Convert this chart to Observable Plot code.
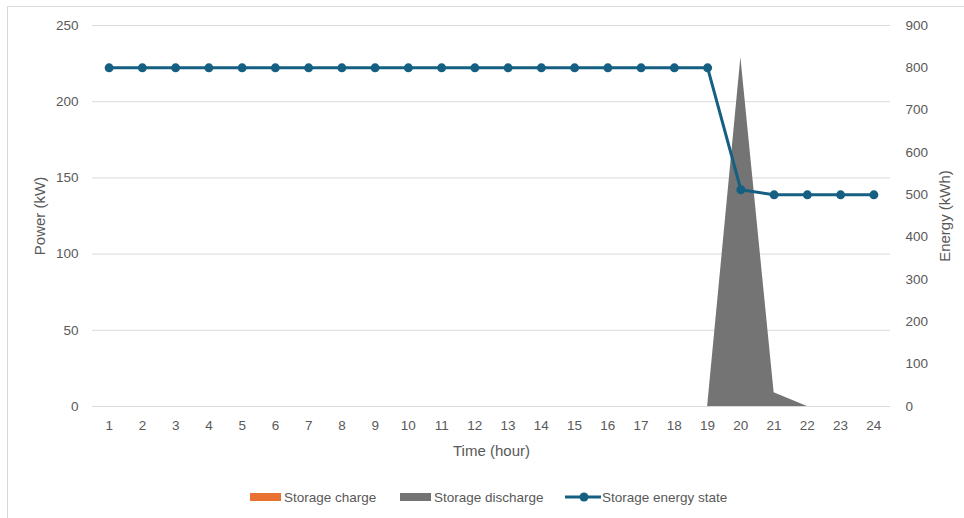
<!DOCTYPE html>
<html>
<head>
<meta charset="utf-8">
<script src="https://cdn.jsdelivr.net/npm/d3@7"></script>
<script src="https://cdn.jsdelivr.net/npm/@observablehq/plot@0.6"></script>
<style>
  html, body { margin: 0; padding: 0; background: #fff; }
  #wrap { position: relative; width: 964px; height: 518px; overflow: hidden; font-family: "Liberation Sans", Arial, sans-serif; }
  #frame { position: absolute; left: 7px; top: 6px; width: 980px; height: 530px; border: 1px solid #d9d9d9; box-sizing: border-box; }
  #chart { position: absolute; left: 0; top: 0; }
  #legend { position: absolute; left: 0; top: 487px; width: 964px; height: 20px; font-size: 13.5px; color: #595959; }
  .item { position: absolute; top: 0; display: flex; align-items: center; height: 20px; }
  .sw { width: 31px; height: 8px; margin-right: 3px; }
</style>
</head>
<body>
<div id="wrap">
  <div id="frame"></div>
  <div id="chart"></div>
  <div id="legend">
    <div class="item" style="left:250px"><span class="sw" style="background:#E97132"></span>Storage charge</div>
    <div class="item" style="left:400px"><span class="sw" style="background:#747474"></span>Storage discharge</div>
    <div class="item" style="left:565px">
      <svg width="36" height="12" style="margin-right:1px"><line x1="0" y1="6" x2="36" y2="6" stroke="#156082" stroke-width="3"/><circle cx="19" cy="6" r="4.5" fill="#156082"/></svg>Storage energy state</div>
  </div>
</div>
<script>
// Hourly storage profile
const hours = d3.range(1, 25);
const charge = [0,0,0,0,0,0,0,0,0,0,0,0,0,0,0,0,0,0,0,0,0,0,0,0];
const discharge = [0,0,0,0,0,0,0,0,0,0,0,0,0,0,0,0,0,0,0,229,9,0,0,0];
const energy = [800,800,800,800,800,800,800,800,800,800,800,800,800,800,800,800,800,800,800,512,500,500,500,500];

const powerTicks = [0, 50, 100, 150, 200, 250];
const energyTicks = [0, 100, 200, 300, 400, 500, 600, 700, 800, 900];

// Energy (kWh) shares the power axis: 900 kWh maps to 250 kW
const POWER_MAX = 250, ENERGY_MAX = 900;
const toPower = e => e * POWER_MAX / ENERGY_MAX;

const rows = hours.map((h, i) => ({hour: h, charge: charge[i], discharge: discharge[i], energy: energy[i]}));

const gray = "#595959";
const titleStyle = {fill: gray, fontSize: 15, textAnchor: "middle", lineAnchor: "middle"};
const chart = Plot.plot({
  width: 964,
  height: 470,
  marginTop: 25,
  marginBottom: 64,
  marginLeft: 92,
  marginRight: 74,
  style: {fontFamily: "Liberation Sans, Arial, sans-serif", fontSize: "13.5px", color: gray, background: "transparent"},
  x: {domain: [0.5, 24.5]},
  y: {domain: [0, POWER_MAX]},
  marks: [
    Plot.ruleY(powerTicks, {stroke: "#d9d9d9", strokeWidth: 1}),
    Plot.areaY(rows, {x: "hour", y: "charge", fill: "#E97132"}),
    Plot.areaY(rows, {x: "hour", y: "discharge", fill: "#747474"}),
    Plot.line(rows, {x: "hour", y: d => toPower(d.energy), stroke: "#156082", strokeWidth: 3}),
    Plot.dot(rows, {x: "hour", y: d => toPower(d.energy), r: 4.5, fill: "#156082"}),
    Plot.axisX({ticks: hours, tickSize: 0, tickPadding: 14, tickFormat: d => String(d), label: null}),
    Plot.axisY({anchor: "left", ticks: powerTicks, tickSize: 0, tickPadding: 14, label: null}),
    Plot.axisY({anchor: "right", ticks: energyTicks.map(toPower), tickSize: 0, tickPadding: 15,
      tickFormat: d => String(Math.round(d * ENERGY_MAX / POWER_MAX)), label: null}),
    // axis titles
    Plot.text(["Time (hour)"], {frameAnchor: "bottom", dy: 45, ...titleStyle}),
    Plot.text(["Power (kW)"], {frameAnchor: "left", dx: -52, rotate: -90, ...titleStyle}),
    Plot.text(["Energy (kWh)"], {frameAnchor: "right", dx: 55, rotate: -90, ...titleStyle})
  ]
});
document.getElementById("chart").appendChild(chart);
</script>
</body>
</html>
